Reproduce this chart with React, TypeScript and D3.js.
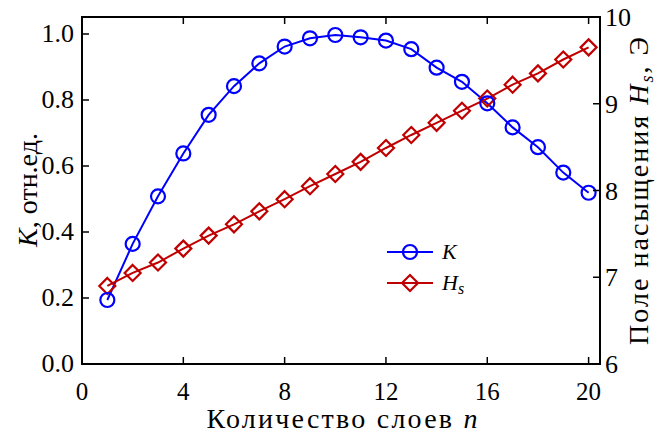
import React from "react";
import * as d3 from "d3";

// Number of layers n
const layers = [1, 2, 3, 4, 5, 6, 7, 8, 9, 10, 11, 12, 13, 14, 15, 16, 17, 18, 19, 20];
// Coefficient K, relative units (left axis)
const kValues = [0.194, 0.364, 0.508, 0.638, 0.755, 0.842, 0.911, 0.962, 0.987, 0.997, 0.99, 0.98, 0.954, 0.898, 0.855, 0.79, 0.717, 0.657, 0.58, 0.519];
// Saturation field Hs, Oe (right axis)
const hsValues = [6.9, 7.05, 7.17, 7.33, 7.48, 7.61, 7.76, 7.9, 8.05, 8.19, 8.33, 8.49, 8.64, 8.78, 8.92, 9.06, 9.22, 9.35, 9.51, 9.65];

const xTicks = [0, 4, 8, 12, 16, 20];
const kTicks = [0, 0.2, 0.4, 0.6, 0.8, 1.0];
const hsTicks = [6, 7, 8, 9, 10];

const W = 661;
const H = 434;
const left = 82;
const right = 600;
const top = 17;
const bottom = 364;

const FONT = "'Liberation Serif', 'Times New Roman', serif";
const BLUE = "#0000ff";
const RED = "#c00000";

export default function App() {
  const x = d3.scaleLinear().domain([0, 20.45]).range([left, right]);
  const yK = d3.scaleLinear().domain([0, 1.0515]).range([bottom, top]);
  const yH = d3.scaleLinear().domain([6, 10]).range([bottom, top]);

  const lineK = d3
    .line<number>()
    .x((_, i) => x(layers[i]))
    .y((d) => yK(d));
  const lineH = d3
    .line<number>()
    .x((_, i) => x(layers[i]))
    .y((d) => yH(d));

  const tickLen = 7;
  const r = 7;
  const dm = 8;
  const diamond = (cx: number, cy: number) =>
    `M${cx},${cy - dm}L${cx + dm},${cy}L${cx},${cy + dm}L${cx - dm},${cy}Z`;

  const txt = { fontFamily: FONT };

  return (
    <svg
      width={W}
      height={H}
      style={{ position: "absolute", left: 0, top: 0, background: "#fff", fontFamily: FONT }}
    >
      {/* series lines */}
      <path d={lineK(kValues) ?? ""} fill="none" stroke={BLUE} strokeWidth={2} />
      <path d={lineH(hsValues) ?? ""} fill="none" stroke={RED} strokeWidth={2} />

      {/* markers */}
      {hsValues.map((v, i) => (
        <path key={"h" + i} d={diamond(x(layers[i]), yH(v))} fill="none" stroke={RED} strokeWidth={2.2} />
      ))}
      {kValues.map((v, i) => (
        <circle key={"k" + i} cx={x(layers[i])} cy={yK(v)} r={r} fill="none" stroke={BLUE} strokeWidth={2.2} />
      ))}

      {/* frame */}
      <rect x={left} y={top} width={right - left} height={bottom - top} fill="none" stroke="#000" strokeWidth={2} />

      {/* x ticks (bottom and top, inward) */}
      {xTicks.map((t) => (
        <g key={"x" + t}>
          {t !== 0 && (
            <>
              <line x1={x(t)} x2={x(t)} y1={bottom} y2={bottom - tickLen} stroke="#000" strokeWidth={1.5} />
              <line x1={x(t)} x2={x(t)} y1={top} y2={top + tickLen} stroke="#000" strokeWidth={1.5} />
            </>
          )}
          <text style={txt} x={x(t)} y={400} textAnchor="middle" fontSize={25}>
            {t}
          </text>
        </g>
      ))}

      {/* left K axis */}
      {kTicks.map((t) => (
        <g key={"k" + t}>
          <line x1={left} x2={left + tickLen} y1={yK(t)} y2={yK(t)} stroke="#000" strokeWidth={1.5} />
          <text style={txt} x={74} y={yK(t) + 8} textAnchor="end" fontSize={26}>
            {t.toFixed(1)}
          </text>
        </g>
      ))}

      {/* right Hs axis */}
      {hsTicks.map((t) => (
        <g key={"hs" + t}>
          <line x1={right} x2={right - tickLen} y1={yH(t)} y2={yH(t)} stroke="#000" strokeWidth={1.5} />
          <text style={txt} x={605} y={yH(t) + 9} textAnchor="start" fontSize={26}>
            {t}
          </text>
        </g>
      ))}

      {/* axis titles */}
      <text style={txt} x={342} y={428} textAnchor="middle" fontSize={28} textLength={271} lengthAdjust="spacing">
        Количество слоев <tspan fontStyle="italic">n</tspan>
      </text>
      <text style={txt} transform="translate(37,190) rotate(-90)" textAnchor="middle" fontSize={28}>
        <tspan fontStyle="italic">K</tspan>, отн.ед.
      </text>
      <text style={txt} transform="translate(648,191) rotate(-90)" textAnchor="middle" fontSize={28} textLength={308} lengthAdjust="spacing">
        Поле насыщения <tspan fontStyle="italic">H</tspan>
        <tspan fontStyle="italic" fontSize={18} dy={5}>s</tspan>
        <tspan dy={-5}>, Э</tspan>
      </text>

      {/* legend */}
      <g>
        <line x1={387} x2={433} y1={252} y2={252} stroke={BLUE} strokeWidth={2} />
        <circle cx={410} cy={252} r={r} fill="none" stroke={BLUE} strokeWidth={2.2} />
        <text style={txt} x={442} y={259} fontSize={22} fontStyle="italic">K</text>
        <line x1={387} x2={433} y1={283} y2={283} stroke={RED} strokeWidth={2} />
        <path d={diamond(410, 283)} fill="none" stroke={RED} strokeWidth={2.2} />
        <text style={txt} x={442} y={290} fontSize={22} fontStyle="italic">
          H<tspan fontSize={16} dy={4}>s</tspan>
        </text>
      </g>
    </svg>
  );
}
